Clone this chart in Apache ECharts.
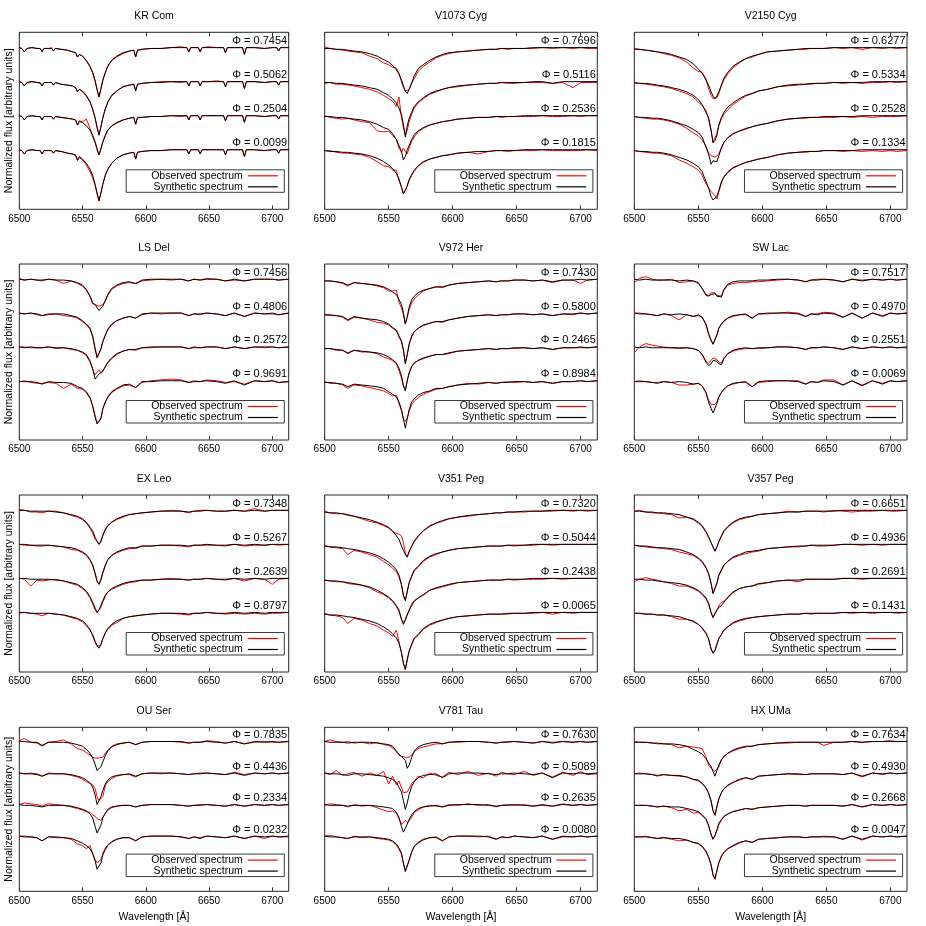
<!DOCTYPE html>
<html><head><meta charset="utf-8">
<script src="https://cdn.jsdelivr.net/npm/echarts@6/dist/echarts.min.js"></script>
<style>html,body{margin:0;padding:0;background:#fff}#c{width:926px;height:926px}</style>
</head><body><div id="c"></div>
<script>
// ---------- DATA ----------
const wavelength = [6500,6504,6509,6514,6518,6523,6529,6535,6541,6546,
  6550,6553,6556,6558,6560,6561.5,6563,6564.5,6566,6568,6570,6573,
  6577,6582,6587,6592,6597,6604,6612,6620,6628,6634,6638,6643,
  6648,6656,6663,6670,6678,6686,6694,6700,6705,6713];
// finer sampling for the metal-line rich KR Com spectra
const wavelength_KR_Com = [6500,6502,6504,6506,6510, 6514,6516.5,6518,6519.5,6523,
  6525.5,6527,6528.5,6533,6538, 6542,6544.5,6546,6547.5,6550, 6553,6556,6558,6560,6561.5,
  6563,6564.5,6566,6568,6570, 6573,6577,6582,6587,6590.5, 6592,6593.5,6597,6604,6612,
  6620,6627,6632.5,6634,6635.5, 6641.5,6643,6644.5,6650,6656, 6661.5,6663,6664.5,6670,6676.5,
  6678,6679.5,6686,6694,6700, 6703.5,6705,6706.5,6713];
const xTickValues = [6500, 6550, 6600, 6650, 6700];
const stackOffsets = [120, 80, 40, 0]; // spectra listed top to bottom, continuum = 100

const starNames = ['KR Com','V1073 Cyg','V2150 Cyg','LS Del','V972 Her','SW Lac','EX Leo','V351 Peg','V357 Peg','OU Ser','V781 Tau','HX UMa'];

const phases_KR_Com = ['0.7454','0.5062','0.2504','0.0099'];
const syn_KR_Com = [
 [100,99,95,99,100, 99,99,95,99,99, 99,96,99,98,97, 95,94,89,92,90, 85,78,71,61,51, 42,51,61,71,78, 85,90,94,96,97, 89,97,98,99,99, 100,100,100,95,100, 100,95,100,100,100, 100,94,100,100,100, 92,100,100,99,100, 100,96,100,100],
 [100,99,95,99,100, 99,99,95,99,99, 99,96,99,97,96, 95,93,88,91,89, 84,76,68,57,46, 37,46,57,68,76, 84,89,94,96,97, 89,97,98,99,99, 100,100,100,95,100, 100,95,100,100,100, 100,94,100,100,100, 92,100,100,99,100, 100,96,100,100],
 [100,99,95,99,100, 99,99,95,99,99, 99,96,99,98,97, 96,95,89,93,92, 88,83,77,69,61, 54,61,69,77,83, 88,92,95,97,98, 90,98,98,99,99, 100,100,100,95,100, 100,95,100,100,100, 100,94,100,100,100, 92,100,100,99,100, 100,96,100,100],
 [100,99,95,99,100, 99,99,95,99,99, 99,96,99,98,96, 95,94,88,92,89, 84,77,70,59,49, 40,49,59,70,77, 84,90,94,96,97, 89,97,98,99,99, 100,100,100,95,100, 100,95,100,100,100, 100,94,100,100,100, 92,100,100,99,100, 100,96,100,100]];
const obs_KR_Com = [
 [100,99,95,99,100, 99,99,96,99,99, 100,96,99,98,97, 95,94,89,92,90, 84,77,70,60,50, 42,52,62,70,79, 85,89,93,96,97, 89,97,98,99,99, 100,101,100,95,100, 100,95,100,101,100, 100,94,100,100,100, 92,100,100,99,100, 100,96,100,100],
 [100,99,95,99,100, 99,98,95,99,99, 99,96,99,97,96, 95,93,88,91,88, 83,76,67,57,46, 38,47,58,68,76, 83,89,94,96,97, 90,97,98,99,100, 100,99,100,95,100, 100,95,100,100,101, 100,94,100,100,100, 92,100,100,99,100, 100,96,100,100],
 [100,99,95,99,100, 99,99,95,99,99, 99,96,99,98,97, 96,95,89,94,93, 96,85,75,68,60, 54,61,69,76,83, 88,91,95,97,98, 90,98,98,99,99, 100,99,100,95,100, 100,95,100,100,100, 100,94,100,100,100, 93,100,100,99,100, 100,96,100,100],
 [100,99,95,99,100, 99,99,95,99,99, 99,96,99,98,96, 95,93,87,91,88, 82,74,67,58,48, 40,49,60,70,77, 84,90,94,96,97, 89,97,98,99,99, 100,100,100,95,100, 100,95,100,100,100, 100,94,100,100,100, 92,100,100,99,100, 100,96,100,100]];

const phases_V1073_Cyg = ['0.7696','0.5116','0.2536','0.1815'];
const syn_V1073_Cyg = [
 [99,99,98,98,97,96,95,93,90,86, 83,79,74,69,62,55,49,46,51,59,67,75, 80,85,89,92,94,95,96,97,98,98,99,99, 99,99,100,100,100,100,100,100,100,100],
 [99,99,98,98,97,96,95,93,91,87, 84,80,75,69,61,50,35,48,57,64,71,76, 81,86,89,91,93,95,96,97,98,98,99,99, 99,99,100,100,98,100,100,100,100,100],
 [99,99,98,98,97,96,95,93,90,86, 84,79,72,65,58,48,52,60,65,72,78,82, 86,89,91,93,94,96,97,98,98,99,99,99, 99,100,100,100,100,100,100,100,100,100],
 [99,98,98,97,97,96,95,93,90,86, 82,78,72,66,56,48,52,58,65,71,76,81, 86,89,91,93,94,96,97,98,98,99,99,99, 99,100,100,100,100,100,100,100,100,100]];
const obs_V1073_Cyg = [
 [101,99,98,97,96,95,94,90,87,82, 80,77,76,70,60,53,49,47,51,58,64,72, 78,83,88,91,93,95,96,97,98,98,99,98, 99,99,99,100,99,100,99,100,99,99],
 [98,99,97,97,96,95,93,91,88,84, 80,77,71,82,58,46,37,43,53,62,69,75, 80,85,88,91,93,94,96,97,98,98,99,98, 98,99,99,99,98,99,93,99,99,99],
 [100,98,97,96,97,95,93,92,82,81, 82,77,72,62,57,62,58,55,62,70,75,81, 85,89,91,93,94,96,97,98,98,99,98,99, 99,99,99,100,99,99,100,99,100,100],
 [99,99,97,96,96,95,94,91,86,81, 80,76,76,64,56,49,51,57,64,70,75,81, 85,89,91,93,94,96,97,95,98,99,99,98, 99,99,99,100,99,99,99,99,100,99]];

const phases_V2150_Cyg = ['0.6277','0.5334','0.2528','0.1334'];
const syn_V2150_Cyg = [
 [98,98,97,96,95,94,92,89,86,81, 75,70,62,56,48,43,40,43,48,56,64,71, 78,83,87,90,92,95,96,97,98,99,99,99, 99,100,100,100,100,100,100,100,100,100],
 [99,98,98,97,96,95,93,91,88,84, 79,73,64,58,43,28,31,37,49,58,64,70, 75,80,84,86,89,91,94,96,97,97,98,98, 98,99,99,99,99,100,100,100,100,100],
 [99,98,98,97,97,96,94,91,88,84, 80,75,63,55,43,47,45,46,53,62,69,74, 79,82,85,87,89,91,94,96,97,98,98,98, 99,99,99,99,100,100,100,100,100,100],
 [99,98,98,97,97,96,94,91,88,84, 80,74,63,55,45,41,42,45,52,62,68,74, 79,82,85,87,89,91,94,96,97,98,98,98, 99,99,99,99,100,100,100,100,100,100]];
const obs_V2150_Cyg = [
 [99,98,97,96,95,93,91,88,83,76, 72,71,63,52,44,40,40,41,46,55,62,69, 76,82,87,89,92,95,96,97,98,98,99,99, 99,100,99,100,98,100,99,100,99,100],
 [98,98,97,96,95,94,92,89,86,82, 76,72,66,56,42,29,31,39,48,56,62,67, 73,78,83,86,89,91,94,95,96,97,97,98, 98,99,98,99,98,99,99,100,99,100],
 [99,98,97,96,96,95,93,90,85,80, 76,72,64,56,53,52,51,53,55,62,68,74, 78,82,84,87,89,91,94,96,97,97,98,98, 98,98,99,98,99,98,99,99,99,100],
 [99,98,97,96,96,95,93,88,84,80, 76,70,60,55,51,50,46,42,50,61,68,73, 78,82,85,87,89,91,94,96,97,97,98,98, 99,99,98,99,98,99,98,99,98,99]];

const phases_LS_Del = ['0.7456','0.4806','0.2572','0.9691'];
const syn_LS_Del = [
 [100,99,100,99,99,100,99,99,98,96, 93,88,80,72,70,69,63,61,68,75,82,89, 93,96,97,95,99,100,100,100,100,98,100,99, 100,100,98,100,98,100,100,100,99,100],
 [100,99,100,99,97,99,99,99,97,95, 91,87,82,73,58,47,47,57,66,74,81,87, 91,94,96,94,99,100,100,100,100,97,99,99, 100,99,97,100,96,100,99,100,98,100],
 [100,99,100,99,99,100,99,99,98,96, 94,91,83,74,62,62,68,70,71,77,82,87, 92,95,97,97,99,100,100,100,100,98,100,99, 100,100,98,100,98,100,100,100,99,100],
 [99,99,99,98,96,99,98,98,97,93, 91,87,80,70,57,49,47,55,67,75,81,87, 91,95,96,92,99,99,100,100,100,98,99,99, 100,99,97,100,95,100,99,100,98,99]];
const obs_LS_Del = [
 [101,99,100,99,98,100,99,95,98,95, 92,87,79,71,70,72,68,66,70,74,81,88, 92,95,96,95,98,99,100,99,100,98,100,99, 101,100,98,99,98,100,100,100,99,100],
 [100,99,100,98,97,98,99,97,96,94, 90,86,81,72,57,48,48,58,66,74,80,86, 91,94,96,94,98,100,99,100,100,97,99,98, 100,99,97,100,96,100,99,99,98,100],
 [100,100,99,99,99,100,98,99,97,96, 93,90,82,74,67,68,73,69,70,76,81,86, 91,95,97,96,99,99,100,100,100,98,99,99, 100,100,98,100,98,100,99,100,99,100],
 [99,100,98,97,97,98,97,91,96,91, 90,86,79,71,58,50,48,56,66,75,80,86, 90,94,95,92,98,100,101,102,101,98,100,99, 101,100,98,99,96,100,99,100,98,99]];

const phases_V972_Her = ['0.7430','0.5800','0.2465','0.8984'];
const syn_V972_Her = [
 [98,98,97,96,93,96,95,94,93,91, 88,85,82,76,70,61,47,56,67,76,80,84, 87,89,91,91,93,95,96,97,98,97,98,98, 99,99,98,99,97,99,99,100,99,100],
 [98,98,97,96,92,96,94,93,92,90, 87,83,80,73,67,57,40,51,63,73,78,82, 86,88,90,90,92,94,96,97,98,97,98,98, 99,99,98,99,97,99,99,100,99,100],
 [98,98,97,96,93,96,95,94,93,91, 88,85,81,75,66,54,48,60,69,77,81,84, 87,89,91,91,93,95,96,97,98,97,98,98, 99,99,98,99,97,99,99,100,99,100],
 [98,98,97,96,93,96,95,94,93,91, 87,84,81,75,66,55,44,55,66,75,79,83, 86,88,91,91,93,95,96,97,98,97,98,98, 99,99,98,99,97,99,99,100,99,100]];
const obs_V972_Her = [
 [98,98,97,95,92,96,95,94,92,90, 86,86,87,73,66,58,47,55,64,72,77,81, 86,89,91,90,93,95,96,97,98,97,98,98, 99,99,98,99,96,99,99,95,99,100],
 [98,97,97,95,91,95,94,92,89,88, 86,82,79,72,66,56,41,51,64,72,78,82, 85,88,90,89,92,94,96,97,98,97,98,98, 99,99,98,99,97,99,98,100,99,100],
 [98,98,96,96,92,96,94,94,92,88, 86,84,80,72,63,54,49,60,70,77,81,84, 86,89,91,91,92,95,96,97,98,97,98,98, 98,99,98,99,97,99,99,99,99,100],
 [99,97,97,95,91,95,94,92,90,88, 85,82,83,74,64,55,52,56,64,72,76,80, 84,87,90,91,93,95,97,96,98,97,98,99, 98,99,98,99,97,99,99,100,99,100]];

const phases_SW_Lac = ['0.7517','0.4970','0.2551','0.0069'];
const syn_SW_Lac = [
 [100,99,100,99,99,99,99,98,99,98, 96,89,81,80,82,84,83,80,78,79,88,94, 97,98,98,98,99,99,100,100,99,97,99,99, 100,99,97,100,98,100,99,100,99,100],
 [100,99,99,98,97,99,98,99,98,96, 98,95,87,76,68,63,65,74,82,87,91,94, 97,98,99,94,99,100,100,100,99,96,99,98, 100,99,95,100,94,100,96,100,99,100],
 [100,99,100,99,99,99,99,99,99,98, 96,91,82,78,80,84,85,83,80,79,86,92, 96,98,99,98,99,99,100,100,99,97,99,99, 100,99,97,100,98,100,99,100,99,100],
 [99,99,99,98,97,99,98,99,98,96, 97,94,86,75,67,62,64,73,81,86,90,94, 97,98,99,93,99,100,100,100,99,96,99,98, 100,99,95,100,94,100,96,100,99,100]];
const obs_SW_Lac = [
 [96,101,103,100,99,99,100,96,97,98, 95,89,82,81,84,86,84,81,79,80,87,93, 95,96,96,97,97,98,99,100,99,97,99,100, 100,99,97,100,99,100,99,100,99,100],
 [100,100,99,98,97,99,97,92,98,96, 97,95,86,75,67,64,66,74,82,87,90,94, 96,98,98,94,99,99,100,101,100,96,99,99, 101,100,95,100,94,100,97,100,99,100],
 [93,100,104,102,101,100,99,98,99,98, 96,91,83,81,84,87,88,85,82,81,87,92, 95,97,98,98,98,99,100,100,99,97,99,99, 100,99,97,100,98,100,99,100,99,99],
 [99,100,99,98,98,99,98,95,95,96, 97,94,86,77,72,71,72,75,81,86,90,94, 96,98,98,93,98,99,100,100,100,96,99,98, 101,101,95,100,95,100,97,100,99,100]];

const phases_EX_Leo = ['0.7348','0.5267','0.2639','0.8797'];
const syn_EX_Leo = [
 [100,100,99,99,99,99,98,97,95,93, 90,86,80,76,68,64,60,63,70,77,82,86, 90,93,95,96,97,98,99,99,99,98,99,99, 100,99,99,100,99,100,99,100,100,100],
 [100,100,99,99,99,99,98,97,96,94, 91,88,82,76,66,57,53,58,66,75,82,87, 91,94,96,96,98,98,99,99,99,98,99,99, 100,99,99,100,99,100,99,100,100,100],
 [100,100,99,99,99,99,98,97,95,93, 89,85,78,72,65,60,63,68,74,80,84,88, 91,94,96,97,98,98,99,99,99,98,99,99, 100,99,99,100,99,100,99,100,100,100],
 [100,100,99,99,99,99,98,97,95,93, 90,86,79,74,66,61,58,62,69,76,81,86, 90,93,95,96,97,98,99,99,99,98,99,99, 100,99,99,100,99,100,99,100,100,100]];
const obs_EX_Leo = [
 [101,100,98,98,97,99,99,97,94,92, 89,85,79,73,66,63,60,64,71,78,82,86, 89,92,95,96,97,98,99,100,99,97,99,100, 100,99,99,100,99,102,99,100,100,100],
 [100,99,99,98,98,99,98,97,94,93, 90,87,81,75,65,56,53,59,67,76,82,87, 90,93,95,95,98,98,99,99,98,97,99,99, 99,99,98,100,98,99,99,100,99,100],
 [100,99,91,98,97,98,99,97,94,92, 88,84,77,70,63,60,62,66,72,79,84,87, 90,93,95,96,98,98,99,100,99,98,99,99, 100,99,98,100,97,100,99,93,99,100],
 [99,100,99,98,96,99,98,97,94,92, 89,84,80,72,65,60,58,62,69,76,80,85, 88,93,95,96,97,98,99,99,98,97,99,99, 100,99,98,99,98,99,98,99,99,100]];

const phases_V351_Peg = ['0.7320','0.5044','0.2438','0.0065'];
const syn_V351_Peg = [
 [98,97,97,96,95,93,91,89,86,83, 80,76,70,66,58,53,48,45,52,58,64,70, 76,81,85,88,90,92,94,95,96,97,97,98, 98,99,99,99,100,100,100,100,100,100],
 [98,97,97,96,95,94,92,90,87,83, 79,75,70,64,53,40,34,45,55,63,70,74, 81,86,89,91,93,95,96,97,98,98,98,99, 99,99,100,100,100,100,100,100,100,100],
 [98,97,97,96,95,94,92,90,86,82, 78,74,68,63,52,46,51,57,63,68,73,77, 81,86,89,91,93,95,96,97,98,98,98,99, 99,99,100,100,100,100,100,100,100,100],
 [98,97,97,96,95,94,92,90,87,83, 79,75,70,64,53,40,33,45,55,63,70,74, 81,86,89,91,93,95,96,97,98,98,98,99, 99,99,100,100,100,100,100,100,100,100]];
const obs_V351_Peg = [
 [99,97,96,96,94,93,90,87,85,82, 79,75,73,72,70,62,50,45,51,58,63,69, 76,82,85,87,90,92,93,95,96,97,97,98, 98,98,99,99,99,100,99,100,99,100],
 [99,97,96,95,88,93,91,88,85,80, 76,72,68,62,52,40,34,44,55,62,69,73, 80,85,88,91,93,95,96,97,98,98,98,99, 98,99,99,100,99,100,100,100,100,100],
 [98,97,96,96,94,93,92,89,84,81, 77,73,67,61,52,48,52,58,62,70,74,77, 80,86,88,90,92,95,96,97,98,98,98,99, 98,99,99,99,100,99,100,100,100,100],
 [99,97,96,94,87,93,91,87,84,79, 76,72,79,66,52,40,33,44,54,62,69,73, 80,85,88,91,93,95,96,97,98,98,98,98, 99,99,99,100,98,100,99,100,100,100]];

const phases_V357_Peg = ['0.6651','0.4936','0.2691','0.1431'];
const syn_V357_Peg = [
 [99,99,98,98,97,97,96,95,92,90, 86,82,75,69,62,57,52,57,63,70,76,81, 86,90,92,93,95,96,97,98,98,99,99,99, 99,99,100,100,100,100,100,100,100,100],
 [99,98,98,97,96,96,95,94,91,88, 84,80,73,66,54,42,44,54,64,70,76,80, 85,88,91,92,93,95,96,97,98,98,99,99, 99,99,100,100,100,100,100,100,100,100],
 [99,99,98,98,97,96,95,94,92,89, 86,82,77,71,60,54,59,63,66,68,72,78, 84,88,90,91,94,95,97,98,98,99,99,99, 99,99,100,100,100,100,100,100,100,100],
 [99,99,98,98,97,97,96,95,92,90, 86,82,76,69,57,52,55,62,69,74,79,83, 88,91,93,94,95,96,97,98,98,99,99,99, 99,99,100,100,100,100,100,100,100,100]];
const obs_V357_Peg = [
 [99,100,98,97,97,96,95,91,92,89, 85,81,74,68,62,57,52,57,63,69,75,80, 85,89,91,93,95,96,97,99,98,99,99,99, 98,100,99,98,99,99,100,99,99,100],
 [99,98,97,96,96,95,94,91,89,87, 83,79,72,65,54,43,44,55,63,69,75,80, 84,87,89,91,92,95,96,97,97,98,99,98, 98,99,100,100,99,100,99,100,100,100],
 [96,99,101,99,98,96,94,91,91,88, 85,81,76,70,59,54,58,62,68,72,73,77, 83,88,90,91,93,95,97,98,96,99,99,99, 99,99,100,100,99,100,100,100,100,100],
 [99,99,98,98,97,97,95,92,92,89, 86,81,75,69,57,53,56,63,70,74,79,83, 87,90,92,94,95,96,97,98,98,99,98,99, 99,99,100,99,100,99,100,100,99,100]];

const phases_OU_Ser = ['0.7835','0.4436','0.2334','0.0232'];
const syn_OU_Ser = [
 [100,100,99,99,95,99,99,99,98,96, 94,90,85,79,71,63,62,68,74,82,88,93, 96,98,99,96,99,100,100,100,100,98,99,99, 100,99,98,100,97,100,99,100,99,100],
 [100,99,99,98,96,99,99,99,98,96, 94,91,87,82,72,60,60,70,78,86,91,95, 97,98,99,96,99,100,100,100,99,98,99,99, 100,99,98,100,97,100,99,100,99,100],
 [100,99,99,98,97,99,99,99,98,96, 94,92,88,83,72,64,66,74,83,89,94,97, 98,99,99,97,99,100,100,100,99,98,99,99, 100,99,98,100,98,100,99,100,99,100],
 [100,99,99,98,94,99,99,98,97,94, 91,88,84,78,68,58,57,66,76,83,88,93, 96,98,98,94,99,100,100,100,99,97,99,97, 100,99,98,100,97,100,99,100,99,100]];
const obs_OU_Ser = [
 [101,104,99,98,94,99,100,102,97,91, 89,86,83,80,79,79,79,79,80,85,89,94, 97,98,99,96,99,100,100,100,99,98,99,99, 101,100,98,100,97,99,100,99,99,100],
 [100,99,100,99,96,100,99,99,97,95, 92,89,87,85,80,70,65,63,70,84,89,93, 96,98,98,95,99,100,99,100,99,98,99,100, 100,99,98,101,98,100,99,100,99,100],
 [100,102,101,100,98,101,100,99,97,95, 93,91,90,87,85,82,81,80,84,89,93,96, 98,99,99,97,99,100,100,100,99,98,99,100, 100,99,98,100,98,100,99,100,99,100],
 [100,100,99,98,94,99,98,98,96,90, 88,84,88,78,70,66,65,70,78,85,89,92, 96,98,98,94,99,100,100,100,99,97,99,98, 100,99,98,100,97,100,97,100,99,99]];

const phases_V781_Tau = ['0.7630','0.5089','0.2635','0.0080'];
const syn_V781_Tau = [
 [100,99,99,99,98,99,99,99,98,97, 96,94,88,84,81,79,76,66,70,80,88,93, 96,98,99,97,99,100,100,100,99,98,99,99, 100,99,98,100,98,100,99,100,99,100],
 [100,99,99,98,97,99,99,98,97,96, 94,92,88,82,76,65,54,62,73,83,89,94, 97,98,99,94,99,100,100,100,99,98,99,99, 100,99,98,100,94,100,99,100,99,100],
 [100,99,99,99,98,99,99,99,98,97, 96,95,90,84,72,65,70,75,81,87,91,95, 97,98,99,97,99,100,100,100,99,98,99,99, 100,99,98,100,98,100,99,100,99,100],
 [100,99,99,98,97,99,99,99,98,97, 96,94,90,85,78,66,55,57,69,80,87,92, 96,98,99,94,99,100,100,100,99,96,99,98, 100,99,98,100,96,100,99,100,99,100]];
const obs_V781_Tau = [
 [100,102,100,99,100,98,99,97,99,96, 95,92,87,83,81,81,80,79,80,83,87,91, 93,95,97,97,99,99,100,100,99,98,99,100, 100,99,98,100,99,100,99,100,99,100],
 [100,98,103,97,99,101,96,100,97,102, 86,96,85,90,82,75,73,76,80,87,90,96, 94,100,97,95,101,98,102,97,100,96,101,99, 98,102,97,100,95,101,97,102,98,99],
 [99,101,100,99,97,100,98,99,96,93, 91,92,89,82,75,76,80,77,75,84,90,93, 97,99,98,97,100,99,101,99,100,97,99,100, 99,100,98,99,98,101,99,100,99,100],
 [100,101,99,98,97,100,98,99,97,96, 95,93,88,84,77,65,56,58,70,80,87,91, 95,98,98,94,99,100,100,99,100,96,99,98, 100,99,98,100,96,99,99,100,99,100]];

const phases_HX_UMa = ['0.7634','0.4930','0.2668','0.0047'];
const syn_HX_UMa = [
 [99,99,99,98,98,97,97,96,94,90, 87,84,78,73,68,62,56,63,70,77,81,85, 89,92,94,94,96,97,98,99,99,99,99,99, 99,99,99,100,99,100,100,100,100,100],
 [99,99,99,98,97,98,97,97,95,92, 91,87,81,75,65,52,47,57,67,75,80,84, 88,92,94,92,96,97,98,99,99,98,99,99, 99,99,98,100,96,100,99,100,99,100],
 [99,99,99,98,97,98,97,97,95,93, 91,87,82,74,62,56,61,68,76,81,85,88, 91,93,95,94,96,97,98,99,99,98,99,99, 99,99,98,100,97,100,99,100,99,100],
 [99,99,99,98,97,98,97,97,95,92, 91,87,81,74,64,51,46,56,66,74,79,84, 88,92,94,92,96,97,98,99,99,98,99,99, 99,99,96,100,96,100,99,100,99,100]];
const obs_HX_UMa = [
 [100,99,99,98,97,97,96,92,94,93, 92,91,80,70,66,64,62,61,68,76,81,85, 88,91,93,94,96,97,98,98,99,99,99,99, 95,99,99,100,99,100,100,101,100,100],
 [99,100,99,98,96,98,97,96,95,92, 90,87,81,74,64,52,46,57,67,75,80,85, 88,91,94,92,96,97,98,99,98,98,99,99, 99,99,98,100,95,100,98,100,99,100],
 [99,99,99,98,97,98,96,92,94,89, 90,86,81,73,62,56,60,67,74,80,85,88, 91,93,95,94,96,97,98,99,99,98,99,99, 99,99,98,100,97,100,99,100,99,100],
 [99,99,100,98,97,98,96,94,95,92, 90,87,80,73,63,50,45,56,66,75,80,84, 87,91,94,92,96,97,98,99,99,98,99,99, 100,99,96,100,95,100,99,100,99,100]];

// ---------- LAYOUT / STYLE ----------
const FONT = '"Liberation Sans", Arial, Helvetica, sans-serif';
const colLeft = [19.3, 324.7, 634.3], colWidth = [269.4, 272.6, 272.7];
const rowTop = [32.3, 264, 495, 727.3], rowHeight = [177, 176, 177, 164];
const X_MIN = 6500, X_MAX = 6713, Y_MIN = 30, Y_MAX = 238;

const panels = [
  {wl: wavelength_KR_Com, phases: phases_KR_Com, syn: syn_KR_Com, obs: obs_KR_Com},
  {wl: wavelength, phases: phases_V1073_Cyg, syn: syn_V1073_Cyg, obs: obs_V1073_Cyg},
  {wl: wavelength, phases: phases_V2150_Cyg, syn: syn_V2150_Cyg, obs: obs_V2150_Cyg},
  {wl: wavelength, phases: phases_LS_Del, syn: syn_LS_Del, obs: obs_LS_Del},
  {wl: wavelength, phases: phases_V972_Her, syn: syn_V972_Her, obs: obs_V972_Her},
  {wl: wavelength, phases: phases_SW_Lac, syn: syn_SW_Lac, obs: obs_SW_Lac},
  {wl: wavelength, phases: phases_EX_Leo, syn: syn_EX_Leo, obs: obs_EX_Leo},
  {wl: wavelength, phases: phases_V351_Peg, syn: syn_V351_Peg, obs: obs_V351_Peg},
  {wl: wavelength, phases: phases_V357_Peg, syn: syn_V357_Peg, obs: obs_V357_Peg},
  {wl: wavelength, phases: phases_OU_Ser, syn: syn_OU_Ser, obs: obs_OU_Ser},
  {wl: wavelength, phases: phases_V781_Tau, syn: syn_V781_Tau, obs: obs_V781_Tau},
  {wl: wavelength, phases: phases_HX_UMa, syn: syn_HX_UMa, obs: obs_HX_UMa}
];

const chart = echarts.init(document.getElementById('c'), null, {renderer: 'canvas'});
const grid = [], xAxis = [], yAxis = [], series = [], legend = [];

panels.forEach((p, i) => {
  const r = Math.floor(i / 3), c = i % 3;
  grid.push({left: colLeft[c], top: rowTop[r], width: colWidth[c], height: rowHeight[r],
    show: true, borderColor: '#262626', borderWidth: 1, backgroundColor: 'transparent', containLabel: false});
  const tick = {show: true, inside: true, length: 4, lineStyle: {color: '#333', width: 1}};
  xAxis.push({gridIndex: i, type: 'value', min: X_MIN, max: X_MAX, interval: 50, position: 'bottom',
    axisLine: {show: false}, axisTick: tick, splitLine: {show: false},
    axisLabel: {fontSize: 10, color: '#000', margin: 4.5, fontFamily: FONT, showMaxLabel: false,
      formatter: v => (xTickValues.indexOf(v) >= 0 ? String(v) : '')},
    name: r === 3 ? 'Wavelength [Å]' : '', nameLocation: 'middle', nameGap: 20.5,
    nameTextStyle: {fontSize: 10.5, color: '#000', fontFamily: FONT}});
  xAxis.push({gridIndex: i, type: 'value', min: X_MIN, max: X_MAX, interval: 50, position: 'top',
    axisLine: {show: false}, axisTick: tick, axisLabel: {show: false}, splitLine: {show: false}});
  yAxis.push({gridIndex: i, type: 'value', min: Y_MIN, max: Y_MAX,
    axisLine: {show: false}, axisTick: {show: false}, axisLabel: {show: false}, splitLine: {show: false},
    name: c === 0 ? 'Normalized flux [arbitrary units]' : '', nameLocation: 'middle', nameGap: 5,
    nameTextStyle: {fontSize: 10.5, color: '#000', fontFamily: FONT}});
  for (let k = 0; k < 4; k++) {
    const off = stackOffsets[k];
    series.push({type: 'line', name: 'Observed spectrum', xAxisIndex: 2 * i, yAxisIndex: i,
      data: p.wl.map((w, j) => [w, p.obs[k][j] + off]), symbol: 'none', showSymbol: false,
      color: '#ff0000', lineStyle: {color: '#ff0000', width: 1}, silent: true, z: 2});
    series.push({type: 'line', name: 'Synthetic spectrum', xAxisIndex: 2 * i, yAxisIndex: i,
      data: p.wl.map((w, j) => [w, p.syn[k][j] + off]), symbol: 'none', showSymbol: false,
      color: '#000000', lineStyle: {color: '#000000', width: 1}, silent: true, z: 3});
  }
  legend.push({data: ['Observed spectrum', 'Synthetic spectrum'], orient: 'vertical', align: 'right',
    right: 926 - (colLeft[c] + colWidth[c] - 4.4),
    bottom: 926 - (rowTop[r] + rowHeight[r] - (r === 3 ? 14.7 : 17)),
    icon: 'rect', itemWidth: 30, itemHeight: 1.2, itemGap: 0, padding: [0.5, 6.5, 0, 25],
    borderColor: '#3a3a3a', borderWidth: 1, selectedMode: false,
    textStyle: {fontSize: 10.5, color: '#000', fontFamily: FONT, lineHeight: 10.5}});
});

chart.setOption({animation: false, backgroundColor: '#fff', grid, xAxis, yAxis, series, legend});

const g = [];
panels.forEach((p, i) => {
  const r = Math.floor(i / 3), c = i % 3;
  g.push({type: 'text', x: colLeft[c] + colWidth[c] / 2, y: rowTop[r] - 16.3, silent: true,
    style: {text: starNames[i], fontSize: 10.5, fontFamily: FONT, fill: '#000',
      textAlign: 'center', textVerticalAlign: 'middle'}});
  p.phases.forEach((ph, k) => {
    const pt = chart.convertToPixel({xAxisIndex: 2 * i, yAxisIndex: i}, [X_MAX, 100 + stackOffsets[k]]);
    g.push({type: 'text', x: pt[0] - 1.5, y: pt[1] - 6.5, silent: true,
      style: {text: 'Φ = ' + ph, fontSize: 11, fontFamily: FONT, fill: '#000',
        textAlign: 'right', textVerticalAlign: 'middle'}});
  });
});
chart.setOption({graphic: g});
</script>
</body></html>
